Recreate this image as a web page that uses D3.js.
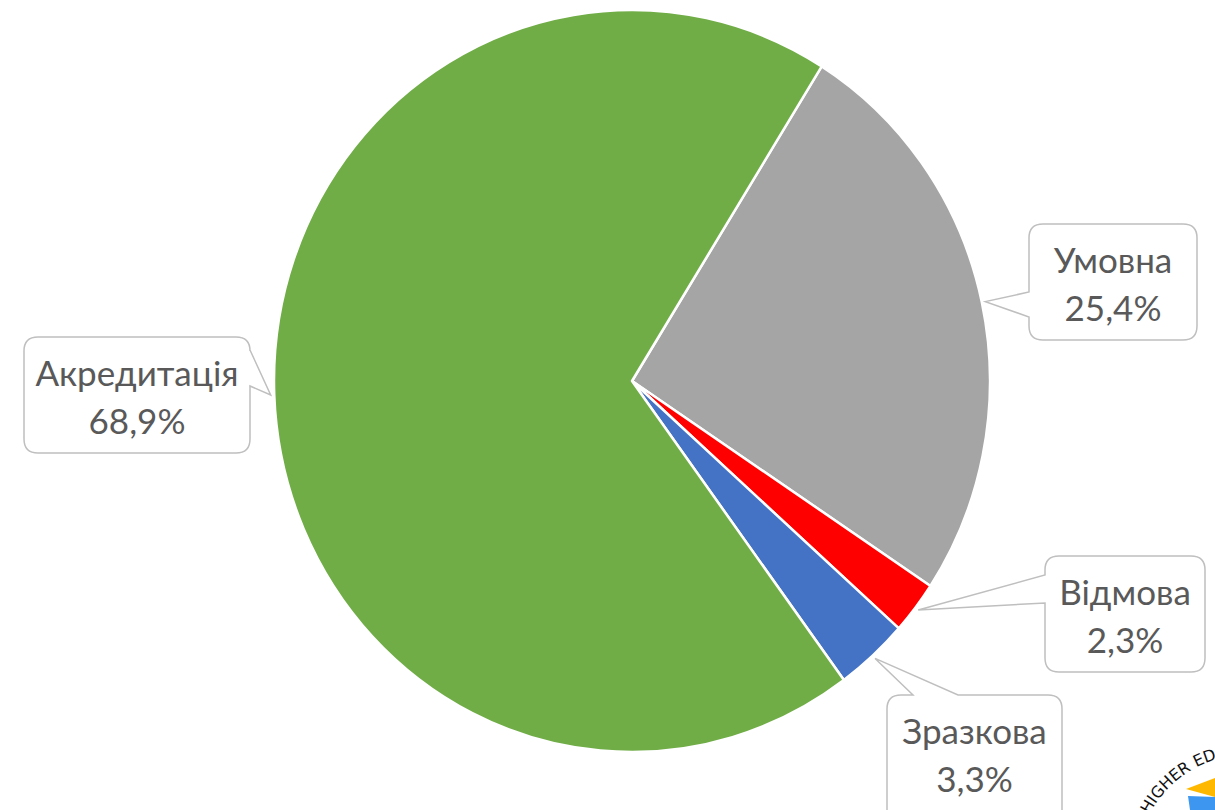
<!DOCTYPE html>
<html>
<head>
<meta charset="utf-8">
<script src="https://cdn.jsdelivr.net/npm/d3@7"></script>
<style>
    body { margin: 0; background: #ffffff; }
    svg { display: block; }
    .lbl { font-family: Lato, "Open Sans", sans-serif; font-size: 35px; fill: #595959; }
</style>
</head>
<body>
<div id="chart"></div>
<script>
// data
const categories = ["Умовна", "Відмова", "Зразкова", "Акредитація"];
const values = [25.4, 2.3, 3.3, 68.9];
const valueLabels = ["25,4%", "2,3%", "3,3%", "68,9%"];
const colors = ["#a5a5a5", "#ff0000", "#4472c4", "#70ad47"];

// callout boxes (layout only)
const callouts = [
    {box: {x: 1029, y: 224, w: 168, h: 116}, side: "left", from: 292, to: 317},
    {box: {x: 1045, y: 556, w: 160, h: 116}, side: "left", from: 575, to: 603},
    {box: {x: 887, y: 695, w: 175, h: 130}, side: "top", from: 913, to: 958},
    {box: {x: 24, y: 337, w: 226, h: 116}, side: "right", from: 350, to: 386}
];

const width = 1215, height = 810;
const cx = 632, cy = 381;
const R = 371;
const sx = 358 / 371; // chart is slightly squashed horizontally

const svg = d3.select("#chart").append("svg")
    .attr("width", width)
    .attr("height", height);

const pie = d3.pie()
    .sort(null)
    .value(d => d)
    .startAngle(32 * Math.PI / 180)
    .endAngle(32 * Math.PI / 180 + 2 * Math.PI);

const arcs = pie(values);
const arc = d3.arc().innerRadius(0).outerRadius(R);

const g = svg.append("g")
    .attr("transform", "translate(" + cx + "," + cy + ") scale(" + sx + ",1)");

g.selectAll("path.slice")
    .data(arcs)
    .enter().append("path")
    .attr("class", "slice")
    .attr("d", arc)
    .attr("fill", (d, i) => colors[i])
    .attr("stroke", "#ffffff")
    .attr("stroke-width", 2.5)
    .attr("stroke-linejoin", "round")
    .attr("vector-effect", "non-scaling-stroke");

// rounded box with a pointer notch to the slice
function calloutPath(c, tip) {
    let b = c.box, r = 14;
    let x = b.x, y = b.y, w = b.w, h = b.h;
    let p = "M" + (x + r) + "," + y;
    if (c.side === "top") p += "L" + c.from + "," + y + "L" + tip[0] + "," + tip[1] + "L" + c.to + "," + y;
    p += "L" + (x + w - r) + "," + y + "Q" + (x + w) + "," + y + " " + (x + w) + "," + (y + r);
    if (c.side === "right") p += "L" + (x + w) + "," + c.from + "L" + tip[0] + "," + tip[1] + "L" + (x + w) + "," + c.to;
    p += "L" + (x + w) + "," + (y + h - r) + "Q" + (x + w) + "," + (y + h) + " " + (x + w - r) + "," + (y + h);
    p += "L" + (x + r) + "," + (y + h) + "Q" + x + "," + (y + h) + " " + x + "," + (y + h - r);
    if (c.side === "left") p += "L" + x + "," + c.to + "L" + tip[0] + "," + tip[1] + "L" + x + "," + c.from;
    p += "L" + x + "," + (y + r) + "Q" + x + "," + y + " " + (x + r) + "," + y + "Z";
    return p;
}

const labels = svg.append("g").attr("class", "labels");

arcs.forEach(function (d, i) {
    let mid = (d.startAngle + d.endAngle) / 2;
    let tip = [cx + Math.sin(mid) * R * 1.01 * sx, cy - Math.cos(mid) * R * 1.01];
    let c = callouts[i];

    labels.append("path")
        .attr("d", calloutPath(c, tip))
        .attr("fill", "#ffffff")
        .attr("stroke", "#bfbfbf")
        .attr("stroke-width", 1.5);

    let t = labels.append("text")
        .attr("class", "lbl")
        .attr("text-anchor", "middle");
    t.append("tspan")
        .attr("x", c.box.x + c.box.w / 2)
        .attr("y", c.box.y + 49)
        .text(categories[i]);
    t.append("tspan")
        .attr("x", c.box.x + c.box.w / 2)
        .attr("y", c.box.y + 97)
        .text(valueLabels[i]);
});

// corner logo fragment
const logo = svg.append("g").attr("class", "logo");
logo.append("path")
    .attr("id", "logoArc")
    .attr("d", "M1140,840 A110,110 0 0,1 1280,760")
    .attr("fill", "none");
logo.append("text")
    .attr("font-family", "DejaVu Sans, sans-serif")
    .attr("font-size", 16)
    .attr("fill", "#111")
    .append("textPath")
    .attr("href", "#logoArc")
    .attr("startOffset", 0)
    .text("for HIGHER EDUCATION");
logo.append("path")
    .attr("d", "M1186,789 L1215,778 L1215,797 Z")
    .attr("fill", "#ffb800");
logo.append("path")
    .attr("d", "M1188,796 L1215,797 L1215,810 L1190,810 Z")
    .attr("fill", "#3d96f0");
</script>
</body>
</html>
